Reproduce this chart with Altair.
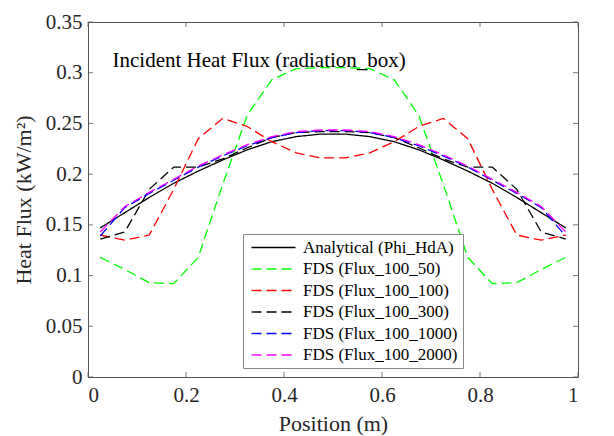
import altair as alt
import pandas as pd

positions = [0.025, 0.075, 0.125, 0.175, 0.225, 0.275, 0.325, 0.375, 0.425, 0.475,
             0.525, 0.575, 0.625, 0.675, 0.725, 0.775, 0.825, 0.875, 0.925, 0.975]

analytical = [0.147, 0.162, 0.177, 0.191, 0.203, 0.214, 0.224, 0.232, 0.237, 0.2395,
              0.2395, 0.237, 0.232, 0.224, 0.214, 0.203, 0.191, 0.177, 0.162, 0.147]
flux_50 = [0.118, 0.106, 0.093, 0.092, 0.118, 0.190, 0.258, 0.293, 0.304, 0.305,
           0.305, 0.304, 0.293, 0.258, 0.190, 0.118, 0.092, 0.093, 0.106, 0.118]
flux_100 = [0.140, 0.135, 0.140, 0.185, 0.235, 0.255, 0.247, 0.232, 0.221, 0.216,
            0.216, 0.221, 0.232, 0.247, 0.255, 0.235, 0.185, 0.140, 0.135, 0.140]
flux_300 = [0.136, 0.143, 0.185, 0.207, 0.207, 0.215, 0.226, 0.236, 0.241, 0.242,
            0.242, 0.241, 0.236, 0.226, 0.215, 0.207, 0.207, 0.185, 0.143, 0.136]
flux_1000 = [0.139, 0.167, 0.181, 0.194, 0.207, 0.218, 0.228, 0.236, 0.241, 0.243,
             0.243, 0.241, 0.236, 0.228, 0.218, 0.207, 0.194, 0.181, 0.167, 0.139]
flux_2000 = [0.143, 0.168, 0.182, 0.195, 0.208, 0.219, 0.229, 0.237, 0.242, 0.2435,
             0.2435, 0.242, 0.237, 0.229, 0.219, 0.208, 0.195, 0.182, 0.168, 0.143]

series_names = ["Analytical (Phi_HdA)", "FDS (Flux_100_50)", "FDS (Flux_100_100)",
                "FDS (Flux_100_300)", "FDS (Flux_100_1000)", "FDS (Flux_100_2000)"]
series_colors = ["#000000", "#00FF00", "#FF0000", "#000000", "#0000FF", "#FF00FF"]
series_dashes = [[1, 0], [10, 5], [10, 5], [10, 5], [10, 5], [10, 5]]

x_ticks = [0, 0.2, 0.4, 0.6, 0.8, 1.0]
y_ticks = [0, 0.05, 0.1, 0.15, 0.2, 0.25, 0.3, 0.35]

title_text = "Incident Heat Flux (radiation_box)"

rows = []
for name, vals in zip(series_names, [analytical, flux_50, flux_100, flux_300, flux_1000, flux_2000]):
    for i, (p, v) in enumerate(zip(positions, vals)):
        rows.append({"series": name, "x": p, "y": v, "order": i})
df = pd.DataFrame(rows)

W, H = 490, 355
FONT = "Liberation Serif"

xscale = alt.Scale(domain=[0, 1], nice=False)
yscale = alt.Scale(domain=[0, 0.35], nice=False)

legend = alt.Legend(
    title=None, orient="none", legendX=155, legendY=212,
    symbolType="M-4,0H4", symbolSize=121, symbolStrokeWidth=1.3,
    symbolOffset=17, labelOffset=21,
    labelFont=FONT, labelFontSize=17, labelColor="#000000",
    strokeColor="#888888", fillColor="#ffffff", padding=5,
    rowPadding=3.5, labelLimit=300,
)

lines = alt.Chart(df).mark_line(strokeWidth=1.3).encode(
    x=alt.X("x:Q", scale=xscale,
            axis=alt.Axis(values=x_ticks, format="~g", title="Position (m)",
                          tickSize=0, domain=False, grid=False, labelPadding=7,
                          titlePadding=8)),
    y=alt.Y("y:Q", scale=yscale,
            axis=alt.Axis(values=y_ticks, format="~g", title="Heat Flux (kW/m²)",
                          tickSize=0, domain=False, grid=False, labelPadding=6,
                          titlePadding=10)),
    color=alt.Color("series:N", scale=alt.Scale(domain=series_names, range=series_colors),
                    sort=series_names, legend=legend),
    strokeDash=alt.StrokeDash("series:N", scale=alt.Scale(domain=series_names, range=series_dashes),
                              sort=series_names, legend=legend),
    order="order:Q",
)

xt = pd.DataFrame({"v": x_ticks})
yt = pd.DataFrame({"v": y_ticks})
tick_color = "#555555"
xb = alt.Chart(xt).mark_rule(color=tick_color, strokeWidth=0.8).encode(
    x=alt.X("v:Q", scale=xscale), y=alt.value(H), y2=alt.value(H - 5))
xtop = alt.Chart(xt).mark_rule(color=tick_color, strokeWidth=0.8).encode(
    x=alt.X("v:Q", scale=xscale), y=alt.value(0), y2=alt.value(5))
yl = alt.Chart(yt).mark_rule(color=tick_color, strokeWidth=0.8).encode(
    y=alt.Y("v:Q", scale=yscale), x=alt.value(0), x2=alt.value(5))
yr = alt.Chart(yt).mark_rule(color=tick_color, strokeWidth=0.8).encode(
    y=alt.Y("v:Q", scale=yscale), x=alt.value(W), x2=alt.value(W - 5))

label = alt.Chart(pd.DataFrame({"x": [0.05], "y": [0.306], "t": [title_text]})).mark_text(
    align="left", baseline="alphabetic", font=FONT, fontSize=21, color="#000000"
).encode(x=alt.X("x:Q", scale=xscale), y=alt.Y("y:Q", scale=yscale), text="t:N")

chart = alt.layer(lines, xb, xtop, yl, yr, label).properties(
    width=W, height=H,
    background="#ffffff",
    autosize=alt.AutoSizeParams(type="none"),
    padding={"left": 80, "top": 14, "right": 28, "bottom": 58},
).configure_view(
    stroke="#555555", strokeWidth=1
).configure_axis(
    labelFont=FONT, labelFontSize=21, labelColor="#262626",
    titleFont=FONT, titleFontSize=22, titleColor="#262626", titleFontWeight="normal",
).configure_legend(
    labelFont=FONT, labelFontSize=17, labelColor="#000000",
)

chart.save("out.html", embed_options={"renderer": "svg", "actions": False})
